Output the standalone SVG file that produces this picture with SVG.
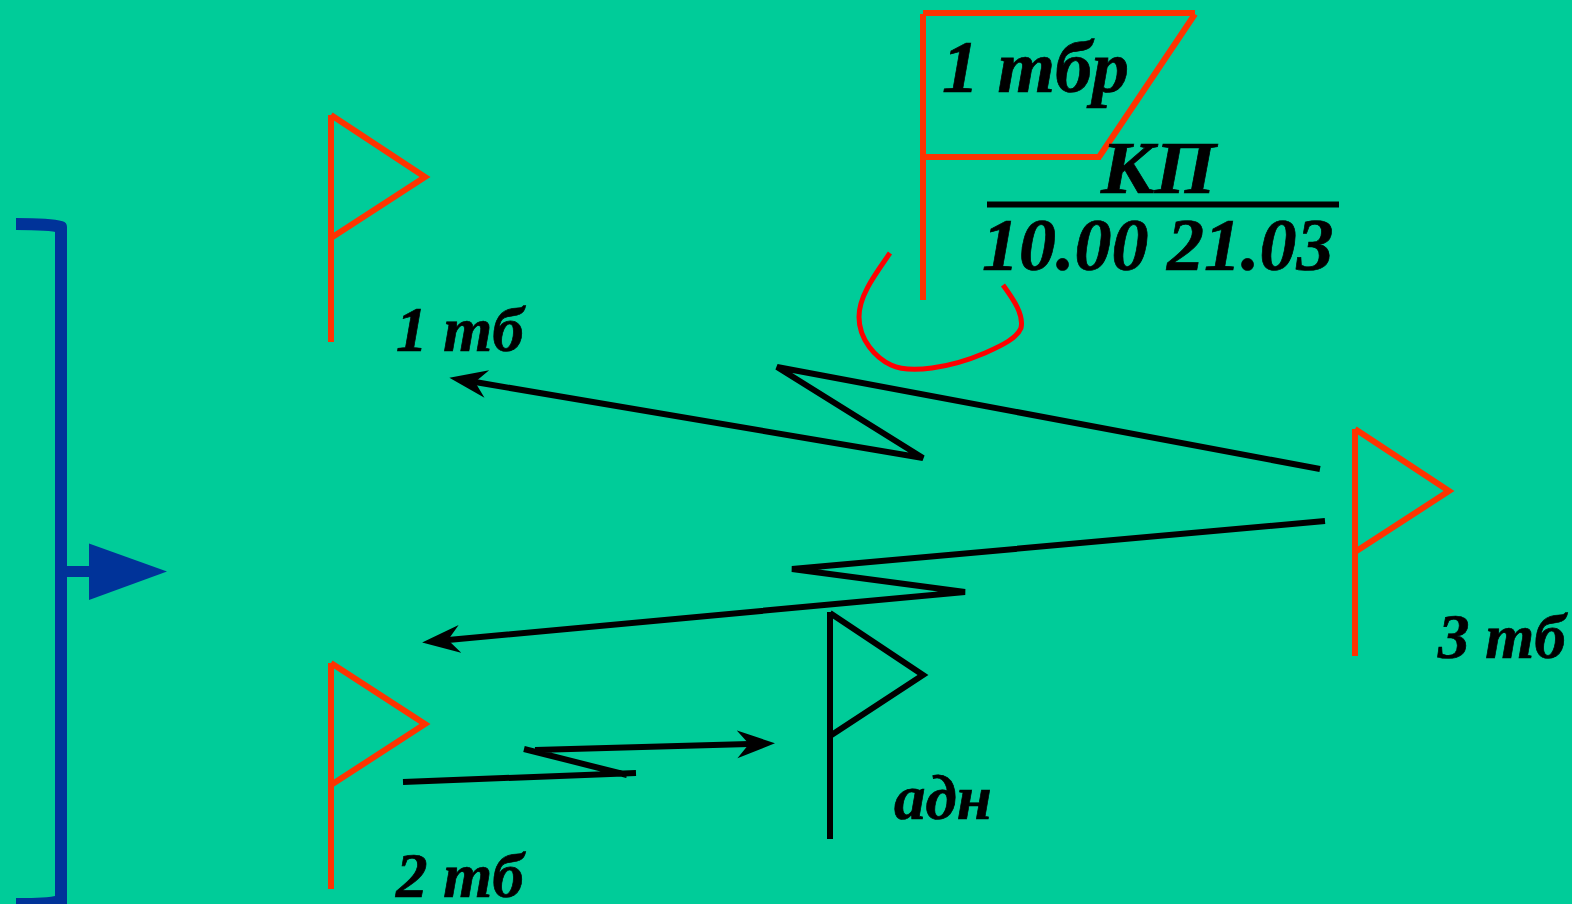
<svg xmlns="http://www.w3.org/2000/svg" width="1572" height="904" viewBox="0 0 1572 904">
<style>
.red{fill:none;stroke:#FF3300;stroke-width:6}
.blk{fill:none;stroke:#000;stroke-width:6}
.conn{fill:none;stroke:#000;stroke-width:6;stroke-linejoin:miter}
.blue{fill:none;stroke:#003399}
text{font-family:"Liberation Serif","Times New Roman",serif;font-weight:bold;font-style:italic;fill:#000;stroke:#000;stroke-width:.7}
.big{font-size:74px}
.mid{font-size:63px}
</style>
<defs>
<marker id="arr" markerUnits="userSpaceOnUse" markerWidth="44" markerHeight="34" viewBox="0 -17 44 34" refX="12" refY="0" orient="auto">
<path d="M0,-14 L38,0 L0,14 L12,0 Z" fill="#000"/>
</marker>
</defs>
<rect width="1572" height="904" fill="#00CC99"/>
<g id="brace">
<path class="blue" d="M16,224 C32,224 50,224 61,227 L61,904" style="stroke-width:12;stroke-linejoin:round"/>
<path d="M16,898 C30,898 45,898 55,896 L67,896 L67,904 L16,904 Z" fill="#003399"/>
<path d="M67,571.500 H92" class="blue" style="stroke-width:11"/>
<polygon points="89,543.500 167,571.500 89,600" fill="#003399"/>
</g>
<g id="flag-1tbr">
<path class="red" d="M923,14 V300 M923,13 H1195 M1195,14 L1099,157 M1101,157 H923"/>
<path d="M890,253 C874,276 859,296 859,317 C859,340 876,358 891,365 C910,374 950,368 985,353 C1003,345 1017,338 1021,328 C1024,315 1014,300 1003,285" fill="none" stroke="#FF0000" stroke-width="5"/>
<text class="big" x="942" y="92">1 тбр</text>
<text class="big" x="1101" y="193" textLength="115" lengthAdjust="spacingAndGlyphs">КП</text>
<path d="M987,204.500 H1339" stroke="#000" stroke-width="6" fill="none"/>
<text class="big" x="982" y="270">10.00 21.03</text>
</g>
<g id="flag-1tb">
<path class="red" d="M331,115 V342 M331,115 L425,177 L331,238"/>
<text class="mid" x="396" y="351">1 тб</text>
</g>
<g id="flag-2tb">
<path class="red" d="M331,663 V889 M331,663 L425,724 L331,785"/>
<text class="mid" x="396" y="897">2 тб</text>
</g>
<g id="flag-3tb">
<path class="red" d="M1355,429 V656 M1355,429 L1449,491 L1355,552"/>
<text class="mid" x="1438" y="658">3 тб</text>
</g>
<g id="flag-adn">
<path class="blk" d="M830,612 V839 M830,613 L923,675 L830,736"/>
<text class="mid" x="894" y="819">адн</text>
</g>
<g id="connectors">
<path class="conn" d="M1320,469 L777,367 L923,458 L475,382" marker-end="url(#arr)"/>
<path class="conn" d="M1325,521 L792,569 L965,592 L448,640" marker-end="url(#arr)"/>
<path class="conn" d="M403,782 L636,773 M627,775 L524,749 M535,750 L749,744" marker-end="url(#arr)"/>
</g>
</svg>
